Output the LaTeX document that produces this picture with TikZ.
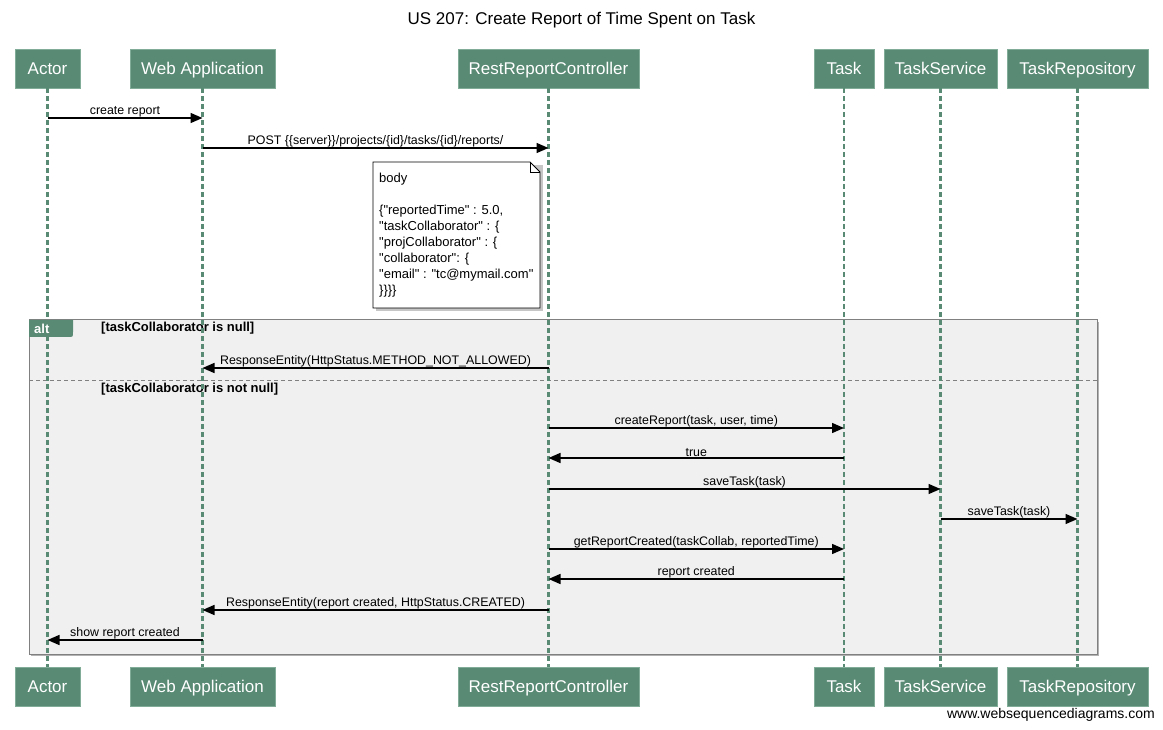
\documentclass[tikz,border=0pt]{standalone}
\usepackage{fontspec}
\setmainfont{Liberation Sans}
\usetikzlibrary{arrows.meta}
\usepackage{xcolor}
\definecolor{wsdgreen}{RGB}{88,138,116}
\definecolor{wsdedge}{RGB}{128,172,152}
\definecolor{framefill}{RGB}{240,240,240}
\definecolor{framedraw}{RGB}{128,128,128}

\begin{document}
\begin{tikzpicture}[x=1pt, y=-1pt, >={Triangle[length=12pt,width=10pt]}]
				\tikzstyle{part} = [draw=wsdedge, fill=wsdgreen, text=white, line width=0.8pt, minimum height=39pt, inner sep=0pt, text height=12.5pt, text depth=0pt, font=\fontsize{17}{19}\selectfont]
				\tikzstyle{life} = [draw=wsdgreen, line width=2.2pt, dash pattern=on 5pt off 3pt]
				\tikzstyle{msg} = [->, line width=1.5pt]
				\tikzstyle{lbl} = [above, inner sep=0.5pt, font=\fontsize{12.4}{14}\selectfont]
				\tikzstyle{cond} = [anchor=west, inner sep=0pt, font=\fontsize{13}{15}\selectfont\bfseries]
				
				\path[use as bounding box] (0,0) rectangle (1163,730);
				\node[font=\fontsize{17}{19}\selectfont] at (581.5,20) (title) {US 207: Create Report of Time Spent on Task};
				
				% alt frame
				\fill[gray!60] (31,322) rectangle (1099,656);
				\filldraw[fill=framefill, draw=framedraw, line width=1pt] (29,320) rectangle (1097,654);
				\fill[wsdgreen] (29,320) -- (73,320) -- (73,332) .. controls (73,337) .. (68,337) -- (29,337) -- cycle;
				\node[cond] at (101,328.5) (c1) {[taskCollaborator is null]};
				\draw[framedraw, line width=1pt, dash pattern=on 4pt off 3pt] (29,380) -- (1097,380);
				\node[cond] at (101,389.5) (c2) {[taskCollaborator is not null]};
				
				% note
				\fill[gray!45] (376,165) -- (543,165) -- (543,311) -- (376,311) -- cycle;
				\filldraw[fill=white, draw=black, line width=0.8pt] (373,162) -- (530,162) -- (540,172) -- (540,308) -- (373,308) -- cycle;
				\draw[line width=0.8pt] (530,162) -- (530,172) -- (540,172);
				\node[anchor=north west, align=left, inner sep=0pt, font=\fontsize{13}{16}\selectfont] at (379,173) (body) {body\\[16pt]
					\{\textquotedbl reportedTime\textquotedbl{} : 5.0,\\
					\textquotedbl taskCollaborator\textquotedbl{} : \{\\
					\textquotedbl projCollaborator\textquotedbl{} : \{\\
					\textquotedbl collaborator\textquotedbl: \{\\
					\textquotedbl email\textquotedbl{} : \textquotedbl tc@mymail.com\textquotedbl\\
					\}\}\}\}};
				
				% participants
				\node[part, minimum width=65pt] 	at (47.5, 68.5) 	(actor) 	{Actor};
				\node[part, minimum width=145pt] 	at (202.5, 68.5) 	(web) 		{Web Application};
				\node[part, minimum width=181pt] 	at (548.5, 68.5) 	(rest) 		{RestReportController};
				\node[part, minimum width=60pt] 	at (844, 68.5) 		(task) 		{Task};
				\node[part, minimum width=113pt] 	at (940.5, 68.5) 	(serv) 		{TaskService};
				\node[part, minimum width=141pt] 	at (1077.5, 68.5) 	(repo) 		{TaskRepository};
				\node[part, minimum width=65pt] 	at (47.5, 686.5) 	(actorB) 	{Actor};
				\node[part, minimum width=145pt] 	at (202.5, 686.5) 	(webB) 		{Web Application};
				\node[part, minimum width=181pt] 	at (548.5, 686.5) 	(restB) 	{RestReportController};
				\node[part, minimum width=60pt] 	at (844, 686.5) 	(taskB) 	{Task};
				\node[part, minimum width=113pt] 	at (940.5, 686.5) 	(servB) 	{TaskService};
				\node[part, minimum width=141pt] 	at (1077.5, 686.5) 	(repoB) 	{TaskRepository};
				
				\draw[life] (actor) -- (actorB);
				\draw[life] (web) -- (webB);
				\draw[life] (rest) -- (restB);
				\draw[life] (task) -- (taskB);
				\draw[life] (serv) -- (servB);
				\draw[life] (repo) -- (repoB);
				
				\node[cond, text=white] at (34,328.5) (alt) {alt};
				
				% message rows
				\coordinate (y1) at (0,118);
				\coordinate (y2) at (0,148);
				\coordinate (y3) at (0,368);
				\coordinate (y4) at (0,428);
				\coordinate (y5) at (0,458);
				\coordinate (y6) at (0,489);
				\coordinate (y7) at (0,519);
				\coordinate (y8) at (0,549);
				\coordinate (y9) at (0,579);
				\coordinate (y10) at (0,610);
				\coordinate (y11) at (0,640);
				
				\path[msg]
				(actor |- y1)	edge	node[lbl] {create report}	(web |- y1)
				(web |- y2)		edge	node[lbl] {POST \{\{server\}\}/projects/\{id\}/tasks/\{id\}/reports/}	(rest |- y2)
				(rest |- y3)	edge	node[lbl] {ResponseEntity(HttpStatus.METHOD\_NOT\_ALLOWED)}	(web |- y3)
				(rest |- y4)	edge	node[lbl] {createReport(task, user, time)}	(task |- y4)
				(task |- y5)	edge	node[lbl] {true}	(rest |- y5)
				(rest |- y6)	edge	node[lbl] {saveTask(task)}	(serv |- y6)
				(serv |- y7)	edge	node[lbl] {saveTask(task)}	(repo |- y7)
				(rest |- y8)	edge	node[lbl] {getReportCreated(taskCollab, reportedTime)}	(task |- y8)
				(task |- y9)	edge	node[lbl] {report created}	(rest |- y9)
				(rest |- y10)	edge	node[lbl] {ResponseEntity(report created, HttpStatus.CREATED)}	(web |- y10)
				(web |- y11)	edge	node[lbl] {show report created}	(actor |- y11);
				
				\node[anchor=east, inner sep=0pt, font=\fontsize{14}{16}\selectfont] at (1155,715) (wsd) {www.websequencediagrams.com};
			\end{tikzpicture}
\end{document}
